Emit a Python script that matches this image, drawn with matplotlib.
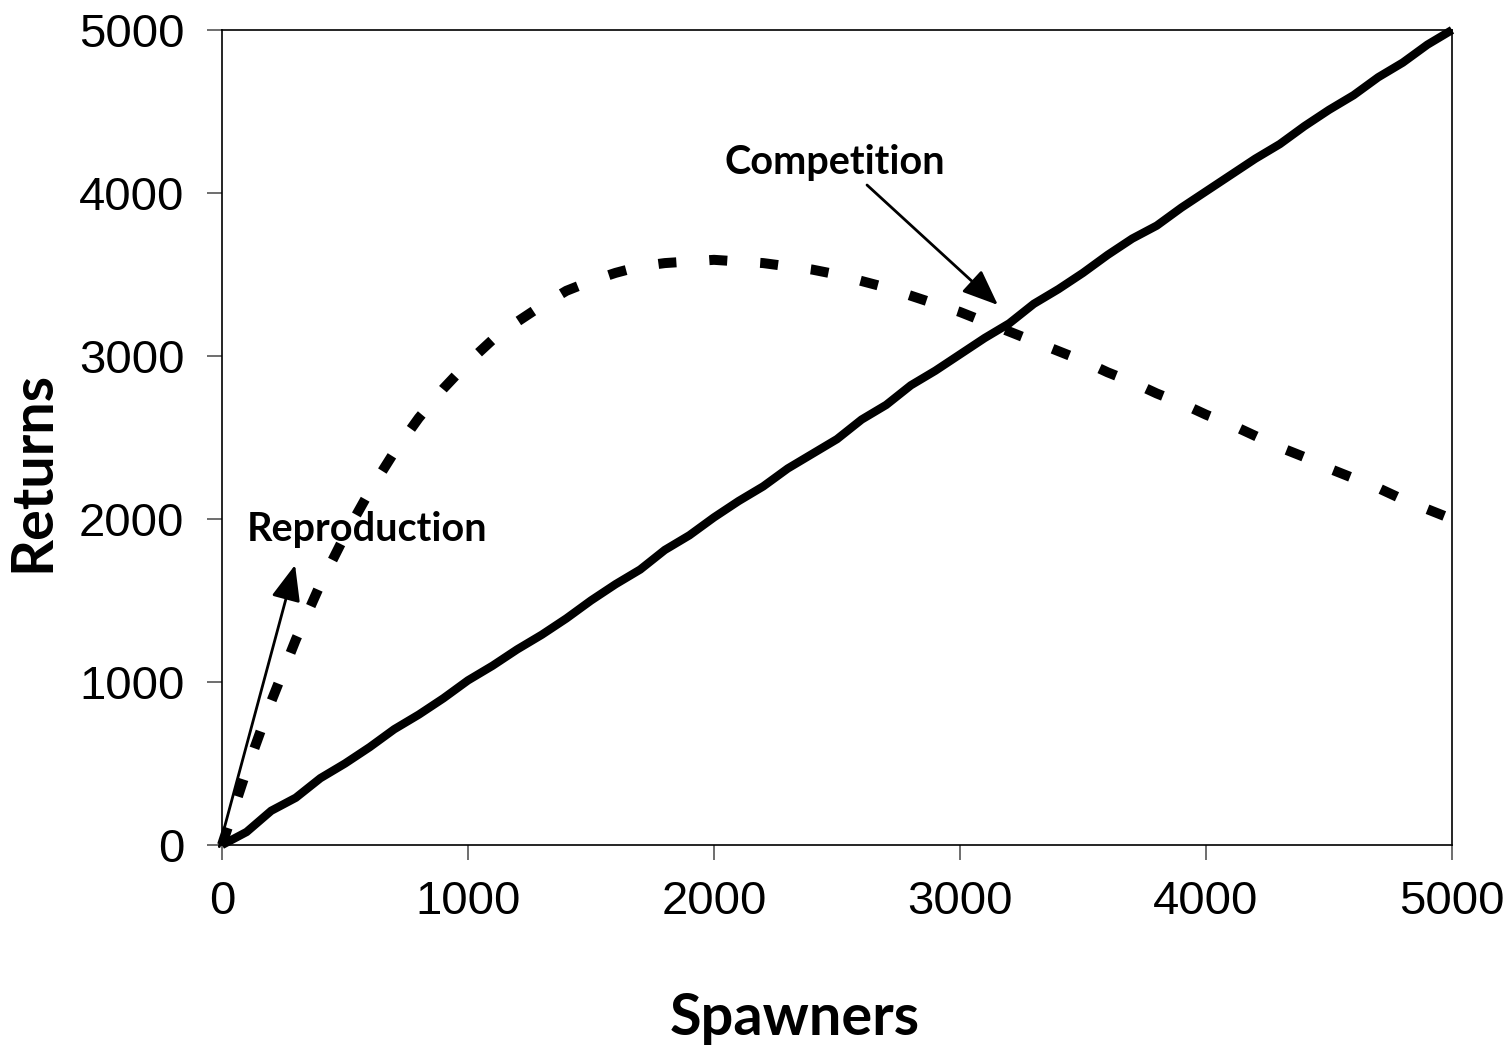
import numpy as np
import matplotlib.pyplot as plt

# spawners on x, returns on y (read every 100 spawners)
spawners = list(range(0, 5001, 100))

# 1:1 replacement line (solid)
replacement = [0, 80, 210, 290, 410, 500, 600, 710, 800, 900,
               1010, 1100, 1200, 1290, 1390, 1500, 1600, 1690, 1810, 1900,
               2010, 2110, 2200, 2310, 2400, 2490, 2610, 2700, 2820, 2910,
               3010, 3110, 3200, 3320, 3410, 3510, 3620, 3720, 3800, 3910,
               4010, 4110, 4210, 4300, 4410, 4510, 4600, 4710, 4800, 4910,
               5000]

# recruitment curve (dashed)
recruits = [0, 460, 880, 1260, 1600, 1900, 2170, 2410, 2620, 2800,
            2960, 3100, 3210, 3310, 3400, 3460, 3510, 3550, 3570, 3580,
            3590, 3580, 3570, 3550, 3530, 3500, 3460, 3420, 3370, 3320,
            3270, 3210, 3150, 3090, 3030, 2970, 2900, 2840, 2770, 2710,
            2640, 2580, 2510, 2440, 2380, 2310, 2250, 2190, 2120, 2060,
            2000]

ticks = [0, 1000, 2000, 3000, 4000, 5000]

TICK_FONT = ['Liberation Sans', 'DejaVu Sans']
LABEL_FONT = ['Lato', 'DejaVu Sans']

fig = plt.figure(figsize=(15.1, 10.48), dpi=100)
ax = fig.add_axes([222 / 1510, 1 - 845 / 1048, 1230 / 1510, 815 / 1048])

ax.plot(spawners, replacement, color='black', lw=6, solid_joinstyle='miter',
        solid_capstyle='butt', clip_on=False)
ax.plot(spawners, recruits, color='black', lw=7.2, dashes=(1.8, 3.3),
        dash_capstyle='butt', clip_on=False)

ax.set_xlim(0, 5000)
ax.set_ylim(0, 5000)
ax.set_xticks(ticks)
ax.set_yticks(ticks)
ax.set_xticklabels([str(t) for t in ticks], family=TICK_FONT, fontsize=34)
ax.set_yticklabels([str(t) for t in ticks], family=TICK_FONT, fontsize=34)
ax.tick_params(direction='out', length=11, width=1.2, color='#555555', pad=14)
ax.tick_params(axis='y', pad=16)
for s in ax.spines.values():
    s.set_linewidth(1.2)
    s.set_color('black')

ax.set_xlabel('Spawners', family=LABEL_FONT, fontweight='bold', fontsize=41.5)
ax.set_ylabel('Returns', family=LABEL_FONT, fontweight='bold', fontsize=41.5)
ax.xaxis.set_label_coords(0.466, -0.18)
ax.yaxis.set_label_coords(-0.132, 0.458)

arrow = dict(arrowstyle='-|>,head_length=2.2,head_width=0.9', color='black',
             lw=2, mutation_scale=10, shrinkA=0, shrinkB=0)
ax.annotate('', xy=(3154, 3313), xytext=(2622, 4049), arrowprops=arrow,
            annotation_clip=False)
ax.annotate('', xy=(297, 1718), xytext=(-11, -10), arrowprops=arrow,
            annotation_clip=False)

ax.text(2041, 4190, 'Competition', family=LABEL_FONT, fontweight='bold',
        fontsize=28.5, ha='left', va='center')
ax.text(102, 1933, 'Reproduction', family=LABEL_FONT, fontweight='bold',
        fontsize=28.5, ha='left', va='center')

fig.savefig('out.png', dpi=100)
